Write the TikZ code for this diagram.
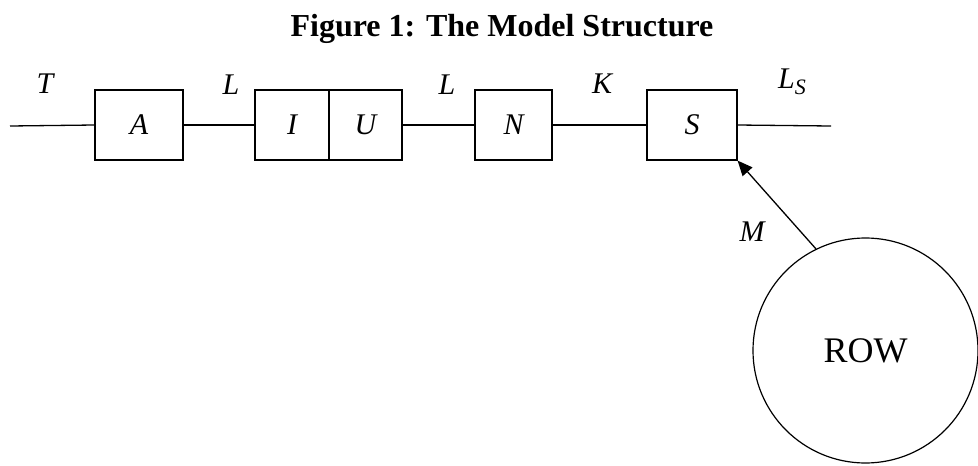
\documentclass[tikz,border=0pt]{standalone}
\usepackage{fontspec}
\setmainfont{Liberation Serif}
\usetikzlibrary{arrows.meta,shapes.geometric}
\begin{document}
\begin{tikzpicture}[x=1pt,y=-1pt,
  blk/.style={draw,line width=1.2pt,minimum height=70pt,inner sep=0pt,font=\fontsize{30}{32}\selectfont\itshape},
  lab/.style={inner sep=0pt,font=\fontsize{30}{32}\selectfont\itshape},
  wire/.style={line width=1.3pt},
]
\useasboundingbox (0,0) rectangle (978,466);
\node[inner sep=0pt,anchor=base,font=\fontsize{32}{36}\selectfont\bfseries] (title) at (502,36) {Figure 1: The Model Structure};
\coordinate (start) at (10,126);
\coordinate (end) at (831,126);
\node[blk,minimum width=88pt] (A) at (139,125) {A};
\node[blk,minimum width=74pt] (I) at (292,125) {I};
\node[blk,minimum width=73pt] (U) at (365.5,125) {U};
\node[blk,minimum width=77pt] (N) at (513.5,125) {N};
\node[blk,minimum width=90pt] (S) at (692,125) {S};
\node[circle,draw,line width=1.2pt,minimum size=225pt,inner sep=0pt,font=\fontsize{36}{40}\selectfont] (row) at (865.5,350.5) {ROW};
\node[lab] (lT) at (45,84) {T};
\node[lab] (lL1) at (231,85) {L};
\node[lab] (lL2) at (447,85) {L};
\node[lab] (lK) at (602,84) {K};
\node[lab] (lLs) at (792,82) {L\raisebox{-6pt}{\fontsize{22}{24}\selectfont S}};
\node[lab] (lM) at (752,232) {M};
\draw[wire] (start) -- (A.west);
\draw[wire] (A.east) -- (I.west);
\draw[wire] (U.east) -- (N.west);
\draw[wire] (N.east) -- (S.west);
\draw[wire] (S.east) -- (end);
\draw[wire,-{Triangle[length=15pt,width=13pt]}] (row.116) -- (S.south east);
\end{tikzpicture}
\end{document}
